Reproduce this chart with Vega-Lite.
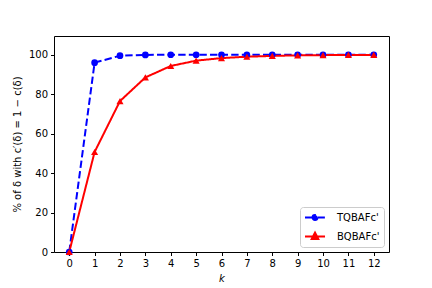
{
  "$schema": "https://vega.github.io/schema/vega-lite/v6.json",
  "width": 335,
  "height": 216,
  "autosize": {"type": "none"},
  "padding": {"left": 54, "top": 36, "right": 43, "bottom": 36},
  "background": "white",
  "config": {
    "font": "DejaVu Sans",
    "view": {"stroke": "black", "strokeWidth": 1},
    "axis": {
      "labelFont": "DejaVu Sans",
      "labelFontSize": 10,
      "labelColor": "black",
      "titleFont": "DejaVu Sans",
      "titleFontSize": 10,
      "titleFontWeight": "normal",
      "titleColor": "black",
      "tickColor": "black",
      "tickSize": 3.5,
      "domain": false,
      "grid": false,
      "labelPadding": 3
    }
  },
  "data": {
    "values": [
      {"k": 0, "series": "TQBAFc'", "v": 0},
      {"k": 1, "series": "TQBAFc'", "v": 96},
      {"k": 2, "series": "TQBAFc'", "v": 99.5},
      {"k": 3, "series": "TQBAFc'", "v": 99.9},
      {"k": 4, "series": "TQBAFc'", "v": 100},
      {"k": 5, "series": "TQBAFc'", "v": 100},
      {"k": 6, "series": "TQBAFc'", "v": 100},
      {"k": 7, "series": "TQBAFc'", "v": 100},
      {"k": 8, "series": "TQBAFc'", "v": 100},
      {"k": 9, "series": "TQBAFc'", "v": 100},
      {"k": 10, "series": "TQBAFc'", "v": 100},
      {"k": 11, "series": "TQBAFc'", "v": 100},
      {"k": 12, "series": "TQBAFc'", "v": 100},
      {"k": 0, "series": "BQBAFc'", "v": 0},
      {"k": 1, "series": "BQBAFc'", "v": 50.7},
      {"k": 2, "series": "BQBAFc'", "v": 76.5},
      {"k": 3, "series": "BQBAFc'", "v": 88.5},
      {"k": 4, "series": "BQBAFc'", "v": 94.3},
      {"k": 5, "series": "BQBAFc'", "v": 97},
      {"k": 6, "series": "BQBAFc'", "v": 98.3},
      {"k": 7, "series": "BQBAFc'", "v": 99},
      {"k": 8, "series": "BQBAFc'", "v": 99.4},
      {"k": 9, "series": "BQBAFc'", "v": 99.7},
      {"k": 10, "series": "BQBAFc'", "v": 99.8},
      {"k": 11, "series": "BQBAFc'", "v": 99.9},
      {"k": 12, "series": "BQBAFc'", "v": 99.9}
    ]
  },
  "encoding": {
    "x": {
      "field": "k",
      "type": "quantitative",
      "scale": {"domain": [-0.6, 12.6], "nice": false, "zero": false},
      "axis": {"values": [0,1,2,3,4,5,6,7,8,9,10,11,12], "title": "k", "titleFontStyle": "italic", "titlePadding": 5}
    },
    "y": {
      "field": "v",
      "type": "quantitative",
      "scale": {"domain": [0, 109.5], "nice": false},
      "axis": {"values": [0,20,40,60,80,100], "title": "% of δ with c′(δ) = 1 − c(δ)", "titlePadding": 6}
    },
    "color": {
      "field": "series",
      "type": "nominal",
      "scale": {"domain": ["TQBAFc'", "BQBAFc'"], "range": ["#0000ff", "#ff0000"]},
      "legend": {
        "title": null,
        "orient": "bottom-right",
        "offset": 5,
        "padding": 4,
        "strokeColor": "#cccccc",
        "fillColor": "white",
        "cornerRadius": 3,
        "labelFont": "DejaVu Sans",
        "labelFontSize": 10,
        "labelColor": "black",
        "symbolSize": 121,
        "symbolStrokeWidth": 2,
        "rowPadding": 4,
        "labelOffset": 20,
        "encode": {
          "symbols": {
            "update": {
              "shape": {"signal": "datum.value === \"TQBAFc'\" ? 'M-1,0L0.37,0M1.27,0L2.64,0M0.37,0A0.45,0.45 0 1 0 1.27,0A0.45,0.45 0 1 0 0.37,0Z' : 'M-1,0L2.64,0M0.82,-0.7L1.42,0.45L0.22,0.45Z'"},
              "fill": {"signal": "datum.value === \"TQBAFc'\" ? '#0000ff' : '#ff0000'"},
              "stroke": {"signal": "datum.value === \"TQBAFc'\" ? '#0000ff' : '#ff0000'"},
              "strokeDash": {"signal": "datum.value === \"TQBAFc'\" ? [5, 2] : [1, 0]"},
              "opacity": {"value": 1}
            }
          }
        }
      }
    }
  },
  "layer": [
    {
      "mark": {"type": "line", "strokeWidth": 2},
      "encoding": {
        "strokeDash": {
          "field": "series",
          "type": "nominal",
          "scale": {"domain": ["TQBAFc'", "BQBAFc'"], "range": [[7.4, 3.2], [1, 0]]},
          "legend": null
        }
      }
    },
    {
      "transform": [{"filter": "datum.series === \"TQBAFc'\""}],
      "mark": {"type": "point", "shape": "circle", "filled": true, "size": 45, "opacity": 1}
    },
    {
      "transform": [{"filter": "datum.series === \"BQBAFc'\""}],
      "mark": {"type": "point", "shape": "triangle-up", "filled": true, "size": 50, "opacity": 1}
    }
  ]
}
